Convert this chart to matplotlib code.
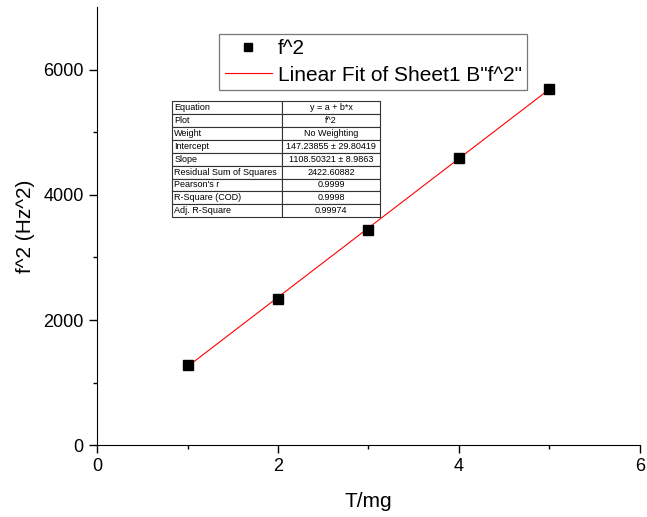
import numpy as np
import matplotlib.pyplot as plt

plt.rcParams['font.family'] = ['Liberation Sans', 'DejaVu Sans']

# data
tension = [1, 2, 3, 4, 5]
freq_sq = [1280, 2340, 3445, 4585, 5700]

# fit parameters as printed in the table
intercept = 147.23855
slope = 1108.50321

table_rows = [
    ["Equation", "y = a + b*x"],
    ["Plot", "f^2"],
    ["Weight", "No Weighting"],
    ["Intercept", "147.23855 \u00b1 29.80419"],
    ["Slope", "1108.50321 \u00b1 8.9863"],
    ["Residual Sum of Squares", "2422.60882"],
    ["Pearson's r", "0.9999"],
    ["R-Square (COD)", "0.9998"],
    ["Adj. R-Square", "0.99974"],
]

fig = plt.figure(figsize=(6.47, 5.17), dpi=100)
ax = fig.add_axes([0.150, 0.139, 0.839, 0.847])

xs = np.array([tension[0], tension[-1]])
ax.plot(xs, intercept + slope * xs, color='red', lw=0.8,
        label='Linear Fit of Sheet1 B"f^2"', zorder=2)
ax.plot(tension, freq_sq, 's', color='black', ms=6.8, label='f^2', zorder=3)

ax.set_xlim(0, 6)
ax.set_ylim(0, 7000)
ax.set_xticks([0, 2, 4, 6])
ax.set_xticks([1, 3, 5], minor=True)
ax.set_yticks([0, 2000, 4000, 6000])
ax.set_yticks([1000, 3000, 5000], minor=True)
ax.spines['top'].set_visible(False)
ax.spines['right'].set_visible(False)
ax.tick_params(which='major', direction='out', length=6, width=1, labelsize=13)
ax.tick_params(which='minor', direction='out', length=3, width=1)
ax.set_xlabel('T/mg', fontsize=15, labelpad=12)
ax.set_ylabel('f^2 (Hz^2)', fontsize=15, labelpad=6)

handles, labels = ax.get_legend_handles_labels()
leg = fig.legend(handles[::-1], labels[::-1], loc='upper left',
                 bbox_to_anchor=(0.339, 0.934), fontsize=15, frameon=True,
                 fancybox=False, edgecolor='#555555', borderpad=0.25,
                 labelspacing=0.35, handlelength=2.3, handletextpad=0.25,
                 borderaxespad=0, markerscale=0.8)
leg.get_frame().set_linewidth(0.9)

tbl = ax.table(cellText=table_rows, cellLoc='center',
               colWidths=[0.53, 0.47],
               bbox=[(172 - 97) / 543, (445 - 217) / 438, 208 / 543, 116 / 438])
tbl.auto_set_font_size(False)
tbl.set_fontsize(6.5)
for (r, c), cell in tbl.get_celld().items():
    cell.set_linewidth(0.8)
    cell.set_edgecolor('#333333')
    if c == 0:
        cell.get_text().set_ha('left')
        cell.PAD = 0.02

fig.savefig('out.png', dpi=100)
